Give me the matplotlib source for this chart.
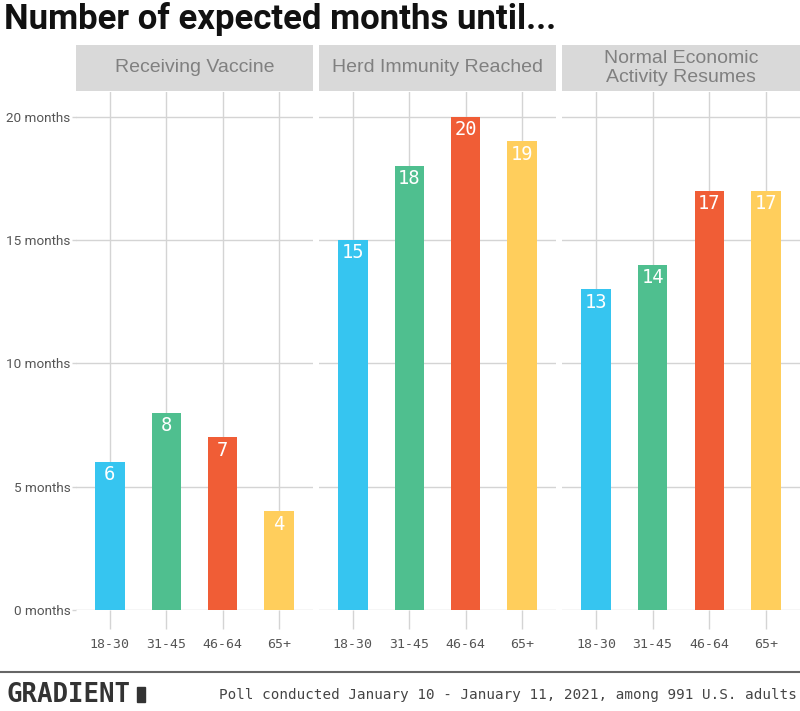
import matplotlib
matplotlib.use("Agg")
import matplotlib.pyplot as plt
import numpy as np

W, H = 800, 711

title = "Number of expected months until..."
panels = ["Receiving Vaccine", "Herd Immunity Reached", "Normal Economic\nActivity Resumes"]
age_groups = ["18-30", "31-45", "46-64", "65+"]
vaccine = [6, 8, 7, 4]
herd = [15, 18, 20, 19]
economy = [13, 14, 17, 17]
series = [vaccine, herd, economy]
colors = ["#36C5F0", "#4FBF8F", "#F05D36", "#FFCE5C"]
yticks = [0, 5, 10, 15, 20]
ytick_labels = [f"{v} months" for v in yticks]
footer_logo = "GRADIENT"
footer_note = "Poll conducted January 10 - January 11, 2021, among 991 U.S. adults"

fig = plt.figure(figsize=(W / 100, H / 100), dpi=100)

def px_axes(x0, y0, x1, y1):
    return fig.add_axes([x0 / W, 1 - y1 / H, (x1 - x0) / W, (y1 - y0) / H])

panel_x = [(76, 313), (319, 556), (562, 800)]
plot_top, plot_bot = 92, 610
strip_top, strip_bot = 45, 91
grid_c = "#d4d4d4"
text_c = "#555555"

for i, ((x0, x1), name, vals) in enumerate(zip(panel_x, panels, series)):
    ax = px_axes(x0, plot_top, x1, plot_bot)
    xs = np.arange(1, len(age_groups) + 1)
    ax.set_xlim(0.4, len(age_groups) + 0.6)
    ax.set_ylim(0, 21)
    for y in yticks:
        ax.axhline(y, color=grid_c, lw=1, zorder=0)
    for x in xs:
        ax.axvline(x, color=grid_c, lw=1, zorder=0)
    ax.bar(xs, vals, width=0.52, color=colors, zorder=2)
    for x, v in zip(xs, vals):
        ax.annotate(str(v), (x, v), xytext=(0, -2.5), textcoords="offset points",
                    ha="center", va="top", color="white", fontsize=13.5,
                    family="DejaVu Sans Mono", zorder=3)
    for s in ax.spines.values():
        s.set_visible(False)
    ax.set_xticks(xs)
    ax.set_xticklabels(age_groups, family="DejaVu Sans Mono", fontsize=9.5, color=text_c)
    ax.tick_params(axis="x", length=14, color=grid_c, width=1, pad=6)
    ax.set_yticks(yticks)
    if i == 0:
        ax.set_yticklabels(ytick_labels, family="Roboto", fontsize=9.7, color=text_c)
        ax.tick_params(axis="y", length=3, color=grid_c, width=1, pad=1)
    else:
        ax.tick_params(axis="y", length=0, labelleft=False)
    ax.set_facecolor("none")
    # strip
    sax = px_axes(x0, strip_top, x1, strip_bot)
    sax.set_facecolor("#d9d9d9")
    sax.set_xticks([]); sax.set_yticks([])
    for s in sax.spines.values():
        s.set_visible(False)
    sax.text(0.5, 0.5, name, ha="center", va="center", fontsize=14,
             family="Liberation Sans", color="#808080", linespacing=1.2,
             transform=sax.transAxes)

fig.text(4 / W, 1 - 19 / H, title, ha="left", va="center", fontsize=25,
         family="Roboto", weight="bold", color="#111111")

# footer
fig.add_artist(plt.Line2D([0, 1], [1 - 672 / H, 1 - 672 / H], color="#666666", lw=1.5,
                          transform=fig.transFigure))
fig.text(6 / W, 1 - 695 / H, footer_logo, ha="left", va="center", fontsize=18.5,
         family="DejaVu Sans Mono", weight="bold", color="#333333")
fig.add_artist(plt.Rectangle((137 / W, 1 - 702 / H), 8 / W, 15 / H, color="#333333",
                             transform=fig.transFigure))
fig.text(797 / W, 1 - 695 / H, footer_note, ha="right", va="center", fontsize=10.25,
         family="DejaVu Sans Mono", color="#444444")

fig.savefig("out.png", dpi=100)
